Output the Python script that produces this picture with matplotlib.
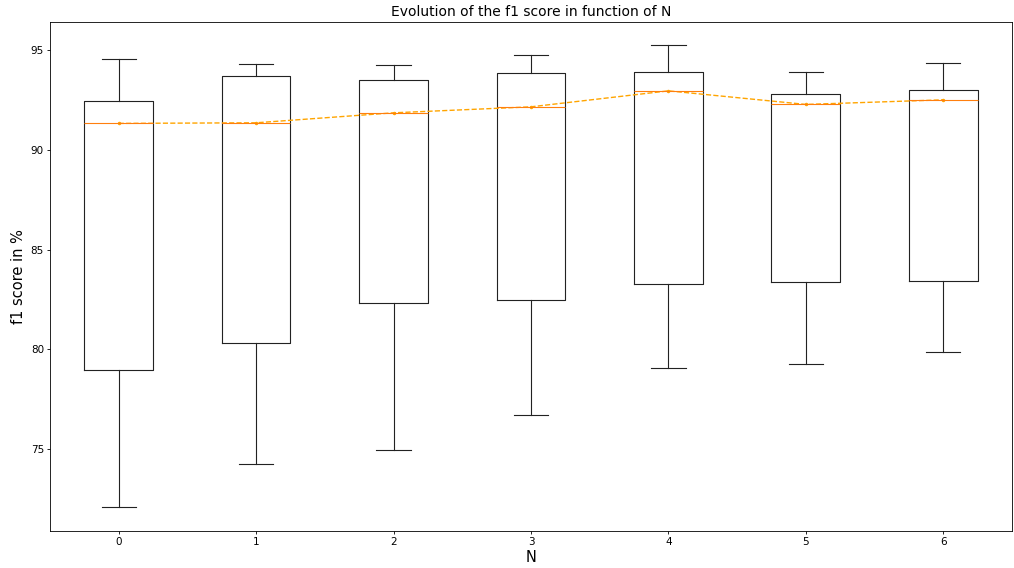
import matplotlib
matplotlib.use("Agg")
import matplotlib.pyplot as plt

positions = [0, 1, 2, 3, 4, 5, 6]
whislo = [72.08, 74.28, 74.98, 76.73, 79.08, 79.28, 79.88]
q1 = [78.98, 80.34, 82.34, 82.49, 83.29, 83.39, 83.44]
med = [91.32, 91.35, 91.85, 92.15, 92.95, 92.30, 92.50]
q3 = [92.45, 93.70, 93.50, 93.85, 93.90, 92.80, 93.00]
whishi = [94.55, 94.30, 94.25, 94.75, 95.25, 93.90, 94.35]
line_vals = [91.32, 91.35, 91.85, 92.15, 92.95, 92.27, 92.50]

stats = []
for i in range(len(positions)):
    stats.append(dict(whislo=whislo[i], q1=q1[i], med=med[i], q3=q3[i],
                      whishi=whishi[i], fliers=[]))

lw = 0.8
fig = plt.figure(figsize=(10.14, 5.68), dpi=100)
ax = fig.add_axes([0.0493, 0.0651, 0.9487, 0.8962])
ax.bxp(stats, positions=positions, widths=0.5, showfliers=False,
       boxprops=dict(linewidth=lw, color='#222222'),
       whiskerprops=dict(linewidth=lw, color='#222222'),
       capprops=dict(linewidth=lw, color='#222222'),
       medianprops=dict(linewidth=lw, color='#ff7f0e'))
ax.plot(positions, line_vals, linestyle='--', color='orange', marker='.',
        markersize=3, linewidth=1.0)
ax.set_xlim(-0.5, 6.5)
ax.set_ylim(70.9, 96.4)
ax.set_xticks(positions)
ax.set_xticklabels([str(p) for p in positions])
ax.set_yticks([75, 80, 85, 90, 95])
for s in ax.spines.values():
    s.set_linewidth(0.6)
ax.set_title("Evolution of the f1 score in function of N", fontsize=10, pad=4)
ax.set_xlabel("N", fontsize=10.5, labelpad=2)
ax.set_ylabel("f1 score in %", fontsize=10.5, labelpad=3)
ax.tick_params(labelsize=7.5, length=2.2, pad=2.2, width=0.6)
fig.savefig("out.png", dpi=100)
